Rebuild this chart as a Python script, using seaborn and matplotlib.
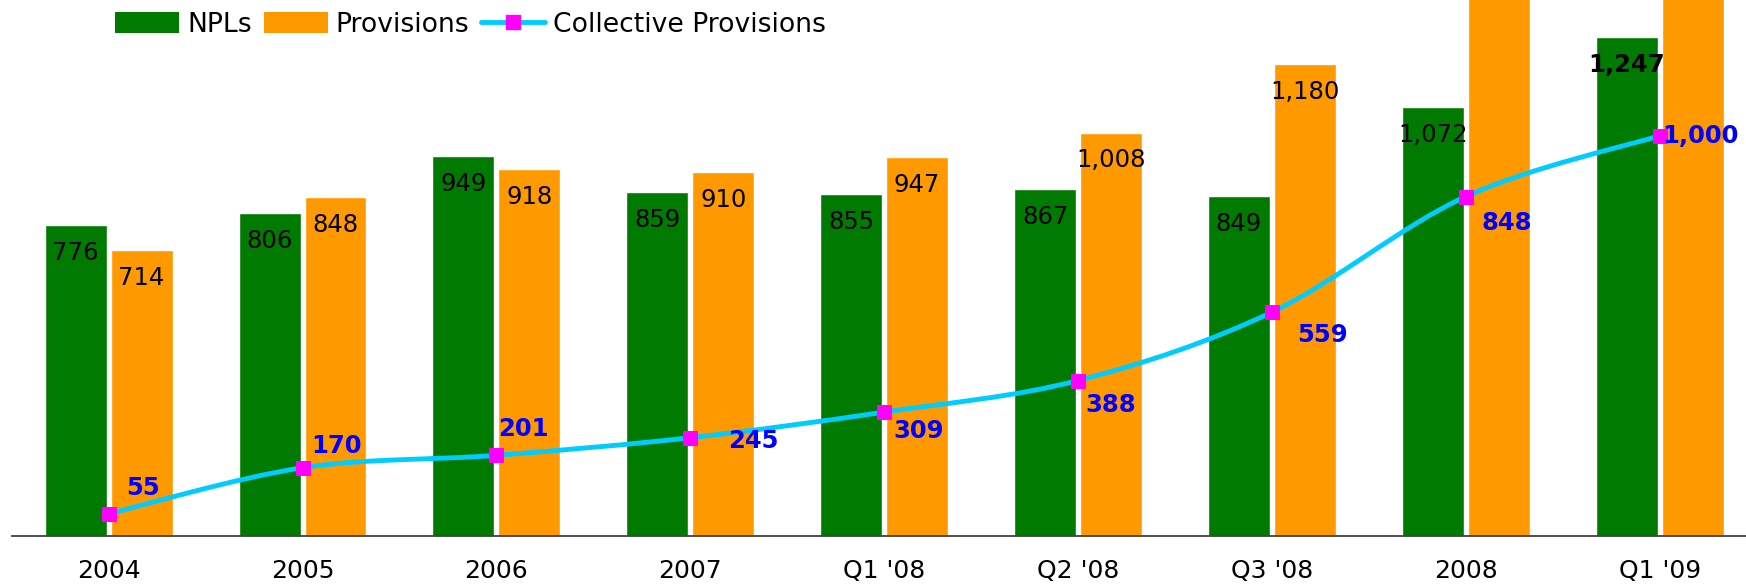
import numpy as np
import pandas as pd
import matplotlib
matplotlib.use("Agg")
import matplotlib.pyplot as plt
from matplotlib.path import Path
from matplotlib.patches import PathPatch, Patch
from matplotlib.lines import Line2D
import seaborn as sns

# ---- data ----
periods = ["2004", "2005", "2006", "2007", "Q1 '08", "Q2 '08", "Q3 '08", "2008", "Q1 '09"]
npls = [776, 806, 949, 859, 855, 867, 849, 1072, 1247]
provisions = [714, 848, 918, 910, 947, 1008, 1180, 1480, 1560]
collective = [55, 170, 201, 245, 309, 388, 559, 848, 1000]

# label placement for the collective-provision values (pixels right, pixels down)
coll_label_offsets = [(34, -26), (34, -22), (27, -26), (63, 3), (34, 19),
                      (33, 25), (51, 23), (41, 27), (41, 0)]

GREEN = "#007A00"
ORANGE = "#FF9900"
CYAN = "#00CCFF"
MAGENTA = "#FF00FF"
BLUE = "#0000FF"

sns.set_theme(style="white")
plt.rcParams["font.family"] = ["DejaVu Sans"]

W, H, DPI = 1746, 587, 100
fig = plt.figure(figsize=(W / DPI, H / DPI), dpi=DPI)
ax = fig.add_axes([11.7 / W, (H - 535.7) / H, 1 - 11.7 / W, 535.7 / H])

df = pd.DataFrame({
    "period": periods * 2,
    "value": npls + provisions,
    "series": ["NPLs"] * len(periods) + ["Provisions"] * len(periods),
})

sns.barplot(data=df, x="period", y="value", hue="series", order=periods,
            hue_order=["NPLs", "Provisions"], palette=[GREEN, ORANGE],
            width=0.68, gap=0.06, saturation=1, legend=False, ax=ax,
            errorbar=None)

# smoothed collective-provision curve (cubic Bezier through the data points)
xs = np.arange(len(collective), dtype=float)
ys = np.array(collective, dtype=float)
pts = np.column_stack([xs, ys])
verts = [tuple(pts[0])]
codes = [Path.MOVETO]
n = len(pts)
for i in range(n - 1):
    p_prev = pts[i - 1] if i > 0 else pts[i]
    p0, p1 = pts[i], pts[i + 1]
    p_next = pts[i + 2] if i + 2 < n else pts[i + 1]
    c1 = p0 + (p1 - p_prev) / 6.0
    c2 = p1 - (p_next - p0) / 6.0
    verts += [tuple(c1), tuple(c2), tuple(p1)]
    codes += [Path.CURVE4] * 3
ax.add_patch(PathPatch(Path(verts, codes), facecolor="none", edgecolor=CYAN,
                       lw=3.5, capstyle="round", joinstyle="round", zorder=4))

sns.lineplot(x=xs, y=ys, ax=ax, linestyle="", marker="s", markersize=10.5,
             markerfacecolor=MAGENTA, markeredgecolor=MAGENTA, zorder=5)

# value labels inside the top of each bar
for k, (container, vals) in enumerate(zip(ax.containers, [npls, provisions])):
    for j, (bar, v) in enumerate(zip(container, vals)):
        cx = bar.get_x() + bar.get_width() / 2
        bold = (k == 0 and j == len(vals) - 1)
        ax.annotate(f"{v:,}", xy=(cx, v), xytext=(0, -28 * 0.72),
                    textcoords="offset points", ha="center", va="center",
                    fontsize=17.5, color="black",
                    fontweight="bold" if bold else "normal",
                    clip_on=True, zorder=6)

# collective provision labels
for i, (v, (dx, dy)) in enumerate(zip(collective, coll_label_offsets)):
    ax.annotate(f"{v:,}", xy=(i, v), xytext=(dx * 0.72, -dy * 0.72),
                textcoords="offset points", ha="center", va="center",
                fontsize=17.5, fontweight="bold", color=BLUE, zorder=7)

ax.set_ylim(0, 535.7 / 0.4)
ax.set_xlim(-0.5, 8.445)
ax.set_xlabel("")
ax.set_ylabel("")
ax.set_yticks([])
for s in ["top", "left", "right"]:
    ax.spines[s].set_visible(False)
ax.spines["bottom"].set_color("#404040")
ax.spines["bottom"].set_linewidth(1.3)
ax.tick_params(axis="x", length=0, pad=17, labelsize=18, labelcolor="black")

handles = [
    Patch(facecolor=GREEN, edgecolor="none", label="NPLs"),
    Patch(facecolor=ORANGE, edgecolor="none", label="Provisions"),
    Line2D([0], [0], color=CYAN, lw=3.5, marker="s", markersize=10,
           markerfacecolor=MAGENTA, markeredgecolor=MAGENTA,
           label="Collective Provisions"),
]
fig.legend(handles=handles, loc="upper left",
           bbox_to_anchor=(115 / W, 1 - 12 / H), ncol=3, frameon=False,
           fontsize=19.2, labelcolor="black", handlelength=2.4, handleheight=0.85,
           handletextpad=0.3, columnspacing=0.45, borderpad=0, borderaxespad=0)

fig.savefig("out.png", dpi=DPI, facecolor="white")
